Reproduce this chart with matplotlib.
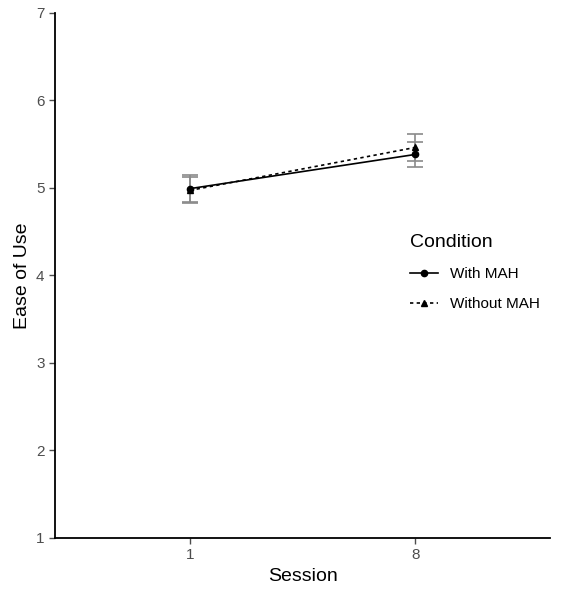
import matplotlib.pyplot as plt
import numpy as np

plt.rcParams['font.family'] = ['Liberation Sans', 'DejaVu Sans']

sessions = ['1', '8']
conditions = ['With MAH', 'Without MAH']
means = {
    'With MAH': [4.99, 5.38],
    'Without MAH': [4.97, 5.46],
}
errs = {
    'With MAH': [0.15, 0.14],
    'Without MAH': [0.15, 0.15],
}
styles = {
    'With MAH': ('-', 'o'),
    'Without MAH': ((0, (2, 2)), '^'),
}

fig = plt.figure(figsize=(5.82, 5.89), dpi=100)
ax = fig.add_axes([0.0945, 0.0866, 0.851, 0.892])

x = np.arange(1, len(sessions) + 1)
for cond in conditions:
    ls, mk = styles[cond]
    ax.errorbar(x, means[cond], yerr=errs[cond], fmt='none', ecolor='#8a8a8a',
                elinewidth=1.2, capsize=6, capthick=1.2, zorder=2)
    ax.plot(x, means[cond], linestyle=ls, marker=mk, color='black',
            markersize=4.5, linewidth=1.2, label=cond, zorder=3)

ax.set_xlim(0.4, 2.6)
ax.set_ylim(1, 7)
ax.set_xticks(x)
ax.set_xticklabels(sessions)
ax.set_yticks(range(1, 8))
ax.tick_params(colors='#4d4d4d', labelsize=11, length=4, width=1)
for s in ['top', 'right']:
    ax.spines[s].set_visible(False)
for s in ['left', 'bottom']:
    ax.spines[s].set_linewidth(1.3)
    ax.spines[s].set_color('black')

ax.set_xlabel('Session', fontsize=14)
ax.set_ylabel('Ease of Use', fontsize=14)

leg = ax.legend(title='Condition', loc='upper left', bbox_to_anchor=(0.69, 0.605),
                frameon=False, fontsize=11, title_fontsize=14, handlelength=1.8,
                labelspacing=1.05)
leg._legend_box.align = 'left'

fig.savefig('out.png', dpi=100)
